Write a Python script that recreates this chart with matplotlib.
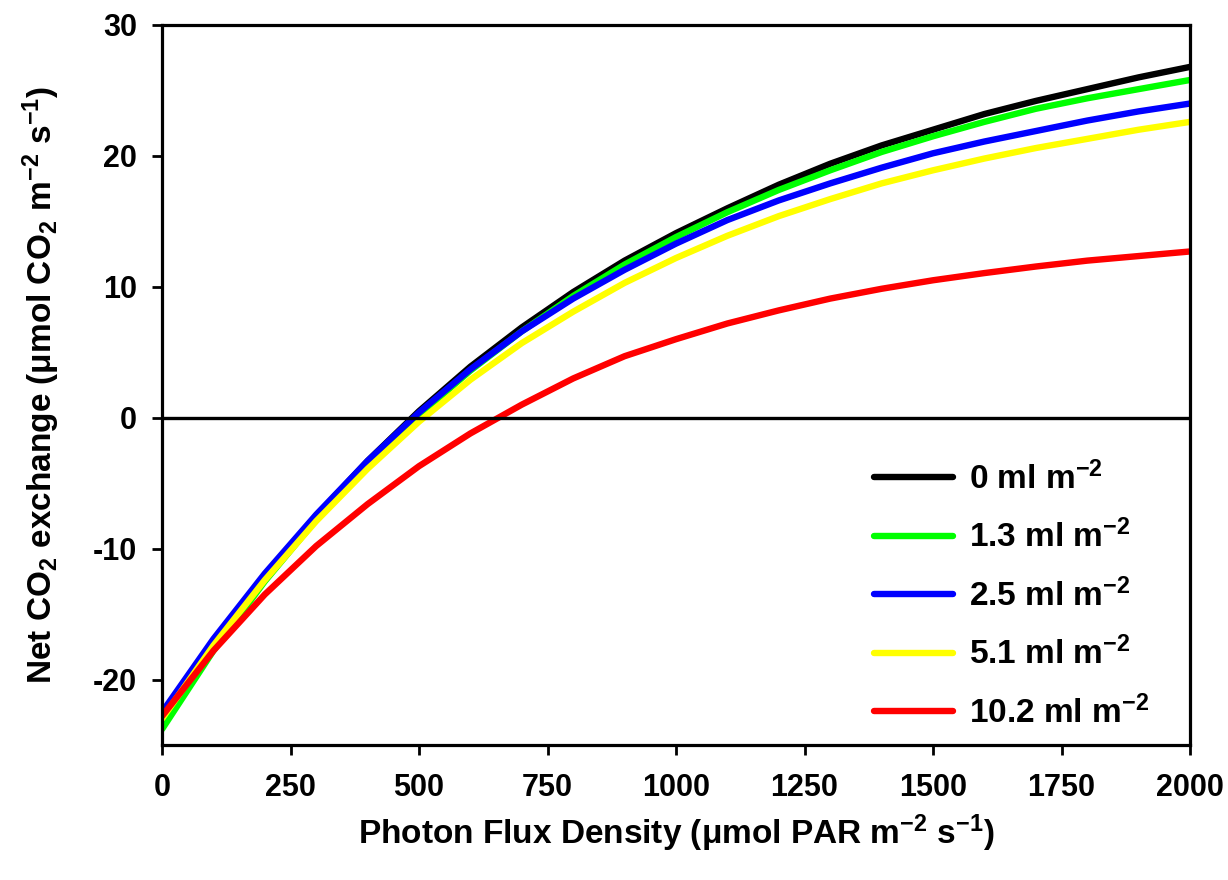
import matplotlib
matplotlib.use('Agg')
import matplotlib.pyplot as plt

plt.rcParams['font.family'] = ['Liberation Sans', 'DejaVu Sans']
plt.rcParams['font.weight'] = 'bold'
plt.rcParams['mathtext.fontset'] = 'custom'
plt.rcParams['mathtext.rm'] = 'Liberation Sans:bold'
plt.rcParams['mathtext.bf'] = 'Liberation Sans:bold'
plt.rcParams['mathtext.default'] = 'bf'
plt.rcParams['axes.unicode_minus'] = False

# photon flux density (umol PAR m-2 s-1)
ppfd = [0, 100, 200, 300, 400, 500, 600, 700, 800, 900, 1000,
        1100, 1200, 1300, 1400, 1500, 1600, 1700, 1800, 1900, 2000]

nce_0 = [-23.4, -17.5, -12.2, -7.5, -3.3, 0.5, 3.9, 6.9, 9.6, 12.0, 14.1,
         16.0, 17.8, 19.4, 20.8, 22.0, 23.2, 24.2, 25.1, 26.0, 26.8]
nce_1_3 = [-23.8, -17.8, -12.5, -7.8, -3.6, 0.2, 3.6, 6.6, 9.3, 11.7, 13.8,
           15.7, 17.4, 18.9, 20.3, 21.5, 22.6, 23.6, 24.4, 25.1, 25.8]
nce_2_5 = [-22.5, -16.9, -11.9, -7.4, -3.3, 0.4, 3.7, 6.6, 9.1, 11.3, 13.3,
           15.1, 16.6, 17.9, 19.1, 20.2, 21.1, 21.9, 22.7, 23.4, 24.0]
nce_5_1 = [-23.0, -17.4, -12.4, -7.9, -3.9, -0.3, 2.9, 5.7, 8.1, 10.3, 12.2,
           13.9, 15.4, 16.7, 17.9, 18.9, 19.8, 20.6, 21.3, 22.0, 22.6]
nce_10_2 = [-22.8, -17.8, -13.5, -9.8, -6.6, -3.7, -1.2, 1.0, 3.0, 4.7, 6.0,
            7.2, 8.2, 9.1, 9.85, 10.5, 11.05, 11.55, 12.0, 12.35, 12.7]

series = [
    (nce_0, '#000000', r'0 ml m$^{-2}$'),
    (nce_1_3, '#00ff00', r'1.3 ml m$^{-2}$'),
    (nce_2_5, '#0000ff', r'2.5 ml m$^{-2}$'),
    (nce_5_1, '#ffff00', r'5.1 ml m$^{-2}$'),
    (nce_10_2, '#ff0000', r'10.2 ml m$^{-2}$'),
]

x_ticks = [0, 250, 500, 750, 1000, 1250, 1500, 1750, 2000]
y_ticks = [-20, -10, 0, 10, 20, 30]

fig = plt.figure(figsize=(12.28, 8.8), dpi=100)
ax = fig.add_axes([162 / 1228, 1 - 745 / 880, (1190 - 162) / 1228, (745 - 25) / 880])

for vals, color, label in series:
    ax.plot(ppfd, vals, color=color, linewidth=4.6, label=label,
            solid_capstyle='round', solid_joinstyle='round')

ax.axhline(0, color='black', linewidth=2.4, zorder=3)

ax.set_xlim(0, 2000)
ax.set_ylim(-25, 30)
ax.set_xticks(x_ticks)
ax.set_yticks(y_ticks)
ax.tick_params(direction='out', length=7, width=2, labelsize=22)
ax.tick_params(axis='x', pad=13)
ax.tick_params(axis='y', pad=11)
ax.tick_params(top=False, right=False)
for lbl in ax.get_xticklabels() + ax.get_yticklabels():
    lbl.set_fontweight('bold')
for sp in ax.spines.values():
    sp.set_linewidth(2.3)

ax.set_xlabel(r'Photon Flux Density (μmol PAR m$^{-2}$ s$^{-1}$)', fontsize=24,
              fontweight='bold', labelpad=7)
ax.set_ylabel(r'Net CO$_2$ exchange (μmol CO$_2$ m$^{-2}$ s$^{-1}$)', fontsize=24,
              fontweight='bold', labelpad=22)

ax.legend(loc='lower right', frameon=False, fontsize=24, handlelength=2.35,
          handletextpad=0.5, labelspacing=0.72, borderaxespad=0.05,
          bbox_to_anchor=(0.975, 0.0))

fig.savefig('out.png', dpi=100)
